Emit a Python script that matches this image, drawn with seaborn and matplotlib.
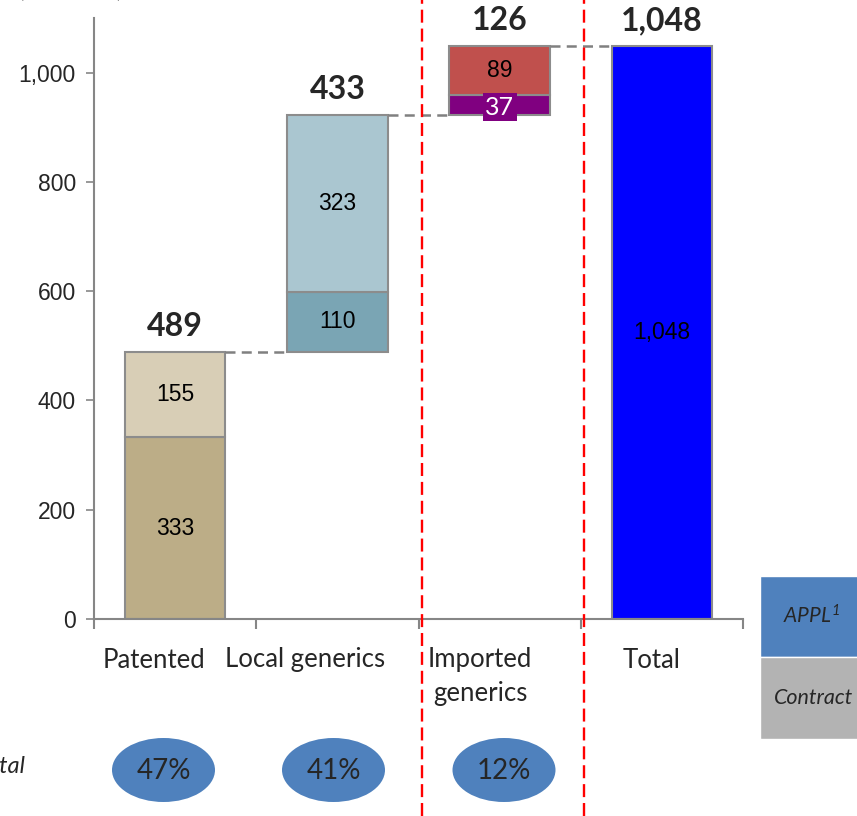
import matplotlib
matplotlib.use("Agg")
import numpy as np
import matplotlib.pyplot as plt
import seaborn as sns
from matplotlib.patches import Ellipse, Rectangle
from matplotlib.lines import Line2D

# ---- data ----
categories = ["Patented", "Local generics", "Imported generics", "Total"]
category_labels = ["Patented", "Local generics", "Imported\ngenerics", "Total"]
lower_values = [333, 110, 37, 1048]
upper_values = [155, 323, 89]
group_totals = [489, 433, 126, 1048]
total_labels = ["489", "433", "126", "1,048"]
lower_labels = ["333", "110", "37", "1,048"]
upper_labels = ["155", "323", "89"]
share_labels = ["47%", "41%", "12%"]
y_ticks = [0, 200, 400, 600, 800, 1000]
y_tick_labels = ["0", "200", "400", "600", "800", "1,000"]
legend_labels = ["$APPL^{1}$", "Contract"]

# ---- styling ----
lower_colors = ["#BCAD87", "#7AA5B4", "#800080", "#0000FF"]
upper_colors = ["#D8CEB6", "#AAC6D0", "#C0504D"]
edge = "#8C8C8C"
grey = "#868686"
calibri_like = ["Lato", "DejaVu Sans"]
arial_like = ["Liberation Sans", "DejaVu Sans"]

sns.set_style("white")
plt.rcParams["font.family"] = calibri_like
plt.rcParams["mathtext.fontset"] = "custom"
plt.rcParams["mathtext.rm"] = "Lato:italic"
plt.rcParams["mathtext.it"] = "Lato:italic"

W, H = 857, 816
fig = plt.figure(figsize=(W / 100, H / 100), dpi=100)


def fx(px):
    return px / W


def fy(py):
    return 1 - py / H


ax = fig.add_axes([fx(94), fy(619), fx(743) - fx(94), fy(18) - fy(619)])

# waterfall bases: each group starts where the previous ones end
cum = np.cumsum(group_totals[:3])
bases = [0, cum[0], cum[1], 0]
bar_w = 0.62

for i, cat in enumerate(categories):
    sns.barplot(x=[cat], y=[lower_values[i]], order=categories, bottom=bases[i],
                color=lower_colors[i], saturation=1, width=bar_w, errorbar=None,
                edgecolor=edge, linewidth=1.5, ax=ax)
    if i < len(upper_values):
        sns.barplot(x=[cat], y=[upper_values[i]], order=categories,
                    bottom=bases[i] + lower_values[i], color=upper_colors[i],
                    saturation=1, width=bar_w, errorbar=None,
                    edgecolor=edge, linewidth=1.5, ax=ax)

ax.set_xlim(-0.5, 3.5)
ax.set_ylim(0, 1100)
ax.set_xlabel("")
ax.set_ylabel("")

# segment value labels
for i in range(4):
    y = bases[i] + lower_values[i] / 2
    if i == 2:
        ax.text(i, bases[i] + lower_values[i] / 2 - 4, lower_labels[i], ha="center", va="center",
                fontsize=18, color="white", family=calibri_like,
                bbox=dict(boxstyle="square,pad=0.1", fc="#800080", ec="none"), zorder=5)
    else:
        ax.text(i, y, lower_labels[i], ha="center", va="center", fontsize=16.5,
                family=arial_like, color="black", zorder=5)
for i in range(3):
    y = bases[i] + lower_values[i] + upper_values[i] / 2
    ax.text(i, y, upper_labels[i], ha="center", va="center", fontsize=16.5,
            family=arial_like, color="black", zorder=5)

# group totals above each bar
tops = [bases[i] + group_totals[i] if i < 3 else group_totals[i] for i in range(4)]
for i in range(4):
    ax.annotate(total_labels[i], (i, tops[i]), xytext=(0, 18.5), textcoords="offset points",
                ha="center", va="center", fontsize=23, fontweight="bold",
                family=calibri_like, annotation_clip=False)

# dashed connectors between bars
for i in range(3):
    ax.plot([i + bar_w / 2, i + 1 - bar_w / 2], [cum[i], cum[i]], color="#808080",
            lw=1.8, dashes=(4, 2.5), zorder=1)

# axes styling
for s in ["top", "right"]:
    ax.spines[s].set_visible(False)
for s in ["left", "bottom"]:
    ax.spines[s].set_color(grey)
    ax.spines[s].set_linewidth(1.5)
ax.set_yticks(y_ticks)
ax.set_yticklabels(y_tick_labels, family=arial_like, fontsize=16.5)
ax.set_xticks([-0.5, 0.5, 1.5, 2.5, 3.5])
ax.set_xticklabels([])
ax.tick_params(axis="y", direction="out", length=6, width=1.2, color=grey, pad=7, left=True)
ax.tick_params(axis="x", direction="out", length=7, width=1.5, color=grey, bottom=True)

# category labels
label_px = [154, 305, 480, 652]
for lab, px in zip(category_labels, label_px):
    if "\n" in lab:
        fig.text(fx(px), fy(676), lab, ha="center", va="center", fontsize=18.5,
                 linespacing=1.45)
    else:
        fig.text(fx(px), fy(660), lab, ha="center", va="center", fontsize=18.5)

# share bubbles
row_label_y = 767
fig.text(fx(25), fy(row_label_y), "% of total", ha="right", va="center",
         fontsize=17, style="italic")
for lab, cx in zip(share_labels, [163.5, 333.5, 504]):
    fig.add_artist(Ellipse((fx(cx), fy(770)), 103 / W, 64 / H, transform=fig.transFigure,
                           fc="#4F81BD", ec="none"))
    fig.text(fx(cx), fy(771), lab, ha="center", va="center", fontsize=20)

# unit note at top-left
fig.text(fx(18), fy(-3), "(USD mn)", ha="left", va="baseline", fontsize=18)

# legend boxes on the right
fig.add_artist(Rectangle((fx(760), fy(657)), 108 / W, 81 / H, transform=fig.transFigure,
                         fc="#4F81BD", ec="white", lw=1))
fig.add_artist(Rectangle((fx(760), fy(739)), 108 / W, 82 / H, transform=fig.transFigure,
                         fc="#B3B3B3", ec="white", lw=1))
fig.text(fx(812), fy(616), legend_labels[0], ha="center", va="center", fontsize=15)
fig.text(fx(814), fy(698), legend_labels[1], ha="center", va="center", fontsize=15.5,
         style="italic")

# red dashed separators across the whole figure
for px in [421.5, 584]:
    fig.add_artist(Line2D([fx(px), fx(px)], [0, 1], transform=fig.transFigure,
                          color="#FF0000", lw=1.7, dashes=(5.5, 2.5), zorder=10))

fig.savefig("out.png", dpi=100)
